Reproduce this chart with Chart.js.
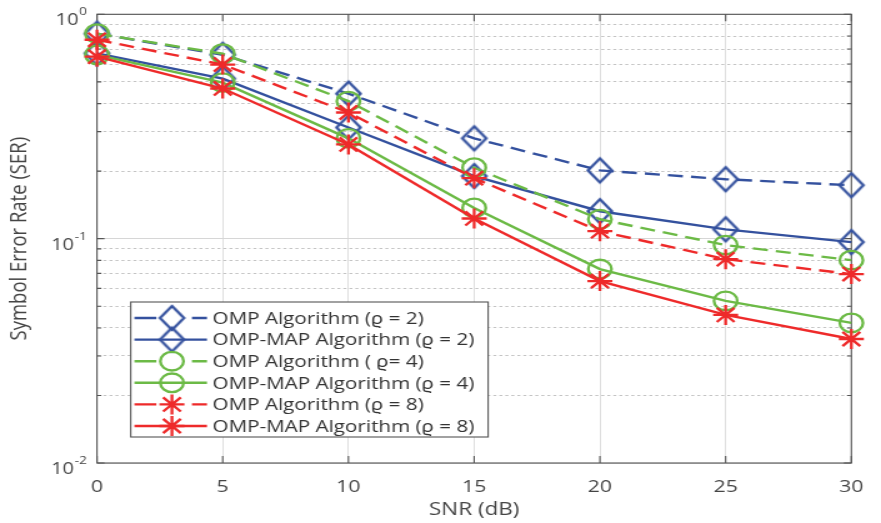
<!DOCTYPE html>
<html>
<head>
<meta charset="utf-8">
<script src="https://cdn.jsdelivr.net/npm/chart.js@4.4.1/dist/chart.umd.min.js"></script>
<style>
  html, body { margin: 0; padding: 0; background: #fff; }
  #wrap { width: 881px; height: 523px; overflow: hidden; }
  /* the original figure is stretched sideways, so the canvas is too */
  #chart { width: 881px; height: 523px; display: block; }
</style>
</head>
<body>
<div id="wrap"><canvas id="chart" width="705" height="523" style="width:881px;height:523px"></canvas></div>
<script>
// SNR values (dB) on the x axis
const snr = [0, 5, 10, 15, 20, 25, 30];

// symbol error rate
const ompRho2    = [0.82, 0.66, 0.443, 0.28, 0.2015, 0.184, 0.173];
const ompMapRho2 = [0.67, 0.517, 0.313, 0.19, 0.1325, 0.110, 0.0965];
const ompRho4    = [0.82, 0.667, 0.41, 0.207, 0.122, 0.0936, 0.0802];
const ompMapRho4 = [0.66, 0.496, 0.28, 0.137, 0.0732, 0.0528, 0.0421];
const ompRho8    = [0.77, 0.597, 0.365, 0.186, 0.108, 0.081, 0.0695];
const ompMapRho8 = [0.647, 0.467, 0.263, 0.123, 0.0647, 0.0457, 0.0357];

const legendLabels = [
    'OMP Algorithm (\u03F1 = 2)',
    'OMP-MAP Algorithm (\u03F1 = 2)',
    'OMP Algorithm ( \u03F1= 4)',
    'OMP-MAP Algorithm (\u03F1 = 4)',
    'OMP Algorithm (\u03F1 = 8)',
    'OMP-MAP Algorithm (\u03F1 = 8)'
];

const xTicks = [0, 5, 10, 15, 20, 25, 30];
const yDecades = [0.01, 0.1, 1];
const yDecadeExp = ['-2', '-1', '0'];

const BLUE = '#34519e';
const GREEN = '#6cba46';
const RED = '#ee2a2a';
const TEXT = '#454545';
const FONT = '"Open Sans", "Noto Sans", sans-serif';

function pts(arr) {
    return snr.map((x, i) => ({ x: x, y: arr[i] }));
}

// hollow diamond, a bit narrower than tall (canvas gets stretched sideways)
function diamond(color) {
    const c = document.createElement('canvas');
    c.width = 26; c.height = 30;
    const g = c.getContext('2d');
    g.strokeStyle = color;
    g.lineWidth = 2.3;
    g.beginPath();
    g.moveTo(13, 3); g.lineTo(22.6, 15); g.lineTo(13, 27); g.lineTo(3.4, 15);
    g.closePath();
    g.stroke();
    return c;
}

function makeSet(label, values, color, dashed, style, radius, order) {
    return {
        label: label,
        data: pts(values),
        borderColor: color,
        backgroundColor: 'rgba(0,0,0,0)',
        borderWidth: 2.4,
        borderDash: dashed ? [12, 6.5] : [],
        pointStyle: style,
        pointRadius: radius,
        pointBorderColor: color,
        pointBackgroundColor: 'rgba(0,0,0,0)',
        pointBorderWidth: 2.3,
        tension: 0,
        clip: false,
        order: order
    };
}

const blueDiamond = diamond(BLUE);

const datasets = [
    makeSet(legendLabels[0], ompRho2, BLUE, true, blueDiamond, 12, 6),
    makeSet(legendLabels[1], ompMapRho2, BLUE, false, blueDiamond, 12, 5),
    makeSet(legendLabels[2], ompRho4, GREEN, true, 'circle', 9.3, 4),
    makeSet(legendLabels[3], ompMapRho4, GREEN, false, 'circle', 9.3, 3),
    makeSet(legendLabels[4], ompRho8, RED, true, 'star', 10, 2),
    makeSet(legendLabels[5], ompMapRho8, RED, false, 'star', 10, 1)
];

// all log ticks 1..9 x 10^k, so the minor grid lines are drawn too
const yAllTicks = [];
yDecades.forEach((d, k) => {
    if (k === yDecades.length - 1) { yAllTicks.push(d); return; }
    for (let m = 1; m <= 9; m++) yAllTicks.push(+(d * m).toPrecision(3));
});

function isDecade(v) {
    return yDecades.some(d => Math.abs(v - d) < d * 1e-6);
}

// MATLAB style box with inward ticks
const boxPlugin = {
    id: 'box',
    beforeDatasetsDraw(chart) {
        const { ctx, chartArea: a, scales } = chart;
        ctx.save();
        ctx.strokeStyle = '#555';
        ctx.lineWidth = 1.1;
        ctx.setLineDash([]);
        ctx.strokeRect(a.left, a.top, a.right - a.left, a.bottom - a.top);
        ctx.beginPath();
        yAllTicks.forEach(v => {
            const y = scales.y.getPixelForValue(v);
            const len = isDecade(v) ? 6 : 3.5;
            ctx.moveTo(a.left, y); ctx.lineTo(a.left + len, y);
            ctx.moveTo(a.right, y); ctx.lineTo(a.right - len, y);
        });
        xTicks.forEach(v => {
            const x = scales.x.getPixelForValue(v);
            ctx.moveTo(x, a.bottom); ctx.lineTo(x, a.bottom - 7);
            ctx.moveTo(x, a.top); ctx.lineTo(x, a.top + 7);
        });
        ctx.stroke();
        ctx.restore();
    },
    // y labels as 10 with a raised exponent
    afterDraw(chart) {
        const { ctx, chartArea: a, scales } = chart;
        ctx.save();
        ctx.fillStyle = TEXT;
        ctx.textAlign = 'left';
        ctx.textBaseline = 'alphabetic';
        yDecades.forEach((d, k) => {
            const y = scales.y.getPixelForValue(d);
            const right = a.left - 8;
            ctx.font = '11px ' + FONT;
            const expW = ctx.measureText(yDecadeExp[k]).width;
            ctx.fillText(yDecadeExp[k], right - expW, y + 1);
            ctx.font = '16px ' + FONT;
            const baseW = ctx.measureText('10').width;
            ctx.fillText('10', right - expW - baseW - 0.5, y + 11);
        });
        ctx.restore();
    }
};

// legend box inside the plot, line + marker like the original
const legendPlugin = {
    id: 'insideLegend',
    afterDatasetsDraw(chart) {
        const { ctx, chartArea: a } = chart;
        const left = a.left + 27;
        const width = 286;
        const height = 135;
        const top = a.bottom - 26 - height;
        const rowH = 21.6;
        ctx.save();
        ctx.fillStyle = '#fff';
        ctx.fillRect(left, top, width, height);
        ctx.strokeStyle = '#555';
        ctx.lineWidth = 1.1;
        ctx.setLineDash([]);
        ctx.strokeRect(left, top, width, height);

        chart.data.datasets.forEach((ds, i) => {
            const y = top + 16 + i * rowH;
            ctx.strokeStyle = ds.borderColor;
            ctx.lineWidth = ds.borderWidth;
            // dashed sample: a dash, the marker, a gap, a shorter dash
            ctx.setLineDash(ds.borderDash.length ? [17.5, 28.5, 12, 100] : []);
            ctx.beginPath();
            ctx.moveTo(left + 3, y);
            ctx.lineTo(left + 61, y);
            ctx.stroke();
            ctx.setLineDash([]);
            ctx.fillStyle = 'rgba(0,0,0,0)';
            ctx.lineWidth = ds.pointBorderWidth;
            Chart.helpers.drawPoint(ctx, {
                pointStyle: ds.pointStyle,
                radius: ds.pointRadius,
                rotation: 0,
                borderWidth: ds.pointBorderWidth
            }, left + 33, y);
            ctx.fillStyle = '#333';
            ctx.font = '16.5px ' + FONT;
            ctx.textBaseline = 'middle';
            ctx.textAlign = 'left';
            ctx.fillText(legendLabels[i], left + 65.5, y + 1);
        });
        ctx.restore();
    }
};

const ctx = document.getElementById('chart').getContext('2d');

const myChart = new Chart(ctx, {
    type: 'line',
    data: { datasets: datasets },
    options: {
        responsive: false,
        animation: false,
        devicePixelRatio: 1,
        layout: { padding: { left: 0, right: 19.4, top: 12.5, bottom: 0 } },
        plugins: {
            legend: { display: false },
            tooltip: { enabled: false }
        },
        scales: {
            x: {
                type: 'linear',
                min: 0,
                max: 30,
                afterBuildTicks: scale => { scale.ticks = xTicks.map(v => ({ value: v })); },
                afterFit: scale => { scale.height = 60; },
                grid: { color: '#dedede', lineWidth: 1, drawTicks: false },
                border: { display: false },
                ticks: {
                    padding: 14,
                    color: TEXT,
                    font: { family: FONT, size: 17 }
                },
                title: {
                    display: true,
                    text: 'SNR (dB)',
                    color: TEXT,
                    font: { family: FONT, size: 18 },
                    padding: { top: 0, bottom: 2 }
                }
            },
            y: {
                type: 'logarithmic',
                min: 0.01,
                max: 1,
                afterBuildTicks: scale => { scale.ticks = yAllTicks.map(v => ({ value: v })); },
                afterFit: scale => { scale.width = 77.6; },
                grid: {
                    drawTicks: false,
                    color: c => (c.tick && isDecade(c.tick.value)) ? '#d6d6d6' : '#c4c4c4',
                    lineWidth: 1
                },
                border: {
                    display: false,
                    dash: c => (c.tick && isDecade(c.tick.value)) ? [] : [2.4, 2.4]
                },
                ticks: {
                    autoSkip: false,
                    display: true,
                    color: TEXT,
                    font: { family: FONT, size: 1 },
                    callback: () => ''
                },
                title: {
                    display: true,
                    text: 'Symbol Error Rate (SER)',
                    color: TEXT,
                    font: { family: FONT, size: 18.5 },
                    padding: { top: 5, bottom: 0 }
                }
            }
        }
    },
    plugins: [boxPlugin, legendPlugin]
});
</script>
</body>
</html>
